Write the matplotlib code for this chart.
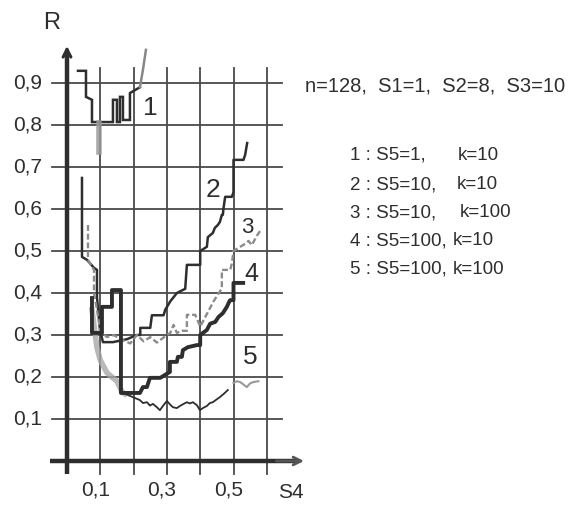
import matplotlib
matplotlib.use("Agg")
import matplotlib.pyplot as plt

plt.rcParams['font.family'] = ['Liberation Sans', 'DejaVu Sans']

# ---------------- data ----------------
x_ticks = [0.1, 0.3, 0.5]
x_tick_labels = ["0,1", "0,3", "0,5"]
y_ticks = [0.1, 0.2, 0.3, 0.4, 0.5, 0.6, 0.7, 0.8, 0.9]
y_tick_labels = ["0,1", "0,2", "0,3", "0,4", "0,5", "0,6", "0,7", "0,8", "0,9"]
x_grid = [0.1, 0.2, 0.3, 0.4, 0.5, 0.6]

# curve 1: S5=1, k=10
c1_x = [0.033, 0.057, 0.057, 0.075, 0.075, 0.099, 0.129, 0.138, 0.138,
        0.150, 0.150, 0.159, 0.159, 0.168, 0.168, 0.189, 0.189, 0.204, 0.219]
c1_y = [0.929, 0.929, 0.867, 0.860, 0.807, 0.807, 0.807, 0.807, 0.860,
        0.860, 0.807, 0.807, 0.867, 0.867, 0.812, 0.812, 0.876, 0.883, 0.890]
c1_dip_x = [0.097, 0.097]
c1_dip_y = [0.805, 0.736]
c1_tail_x = [0.219, 0.228, 0.237]
c1_tail_y = [0.890, 0.931, 0.979]

# curve 2: S5=10, k=10
c2_x = [0.045, 0.045, 0.060, 0.081, 0.090, 0.090, 0.099, 0.108, 0.138, 0.150, 0.180, 0.210,
        0.220, 0.220, 0.250, 0.255, 0.290, 0.295, 0.310, 0.330, 0.355, 0.360, 0.390, 0.400,
        0.400, 0.420, 0.423, 0.438, 0.444, 0.453, 0.459, 0.465, 0.468, 0.470, 0.475, 0.495,
        0.500, 0.500, 0.530, 0.535, 0.541]
c2_y = [0.674, 0.486, 0.479, 0.460, 0.455, 0.390, 0.312, 0.283, 0.283, 0.285, 0.290, 0.300,
        0.300, 0.317, 0.317, 0.347, 0.347, 0.360, 0.380, 0.400, 0.410, 0.467, 0.467, 0.467,
        0.500, 0.510, 0.533, 0.543, 0.555, 0.562, 0.569, 0.586, 0.586, 0.602, 0.629, 0.629,
        0.640, 0.717, 0.717, 0.729, 0.757]

# curve 3: S5=10, k=100
c3_x = [0.063, 0.063, 0.081, 0.081, 0.090, 0.100, 0.120, 0.140, 0.160, 0.190, 0.210, 0.230,
        0.250, 0.270, 0.300, 0.310, 0.320, 0.330, 0.345, 0.360, 0.360, 0.385, 0.400, 0.420,
        0.440, 0.460, 0.465, 0.465, 0.490, 0.495, 0.500, 0.520, 0.535, 0.545, 0.555, 0.570,
        0.580]
c3_y = [0.562, 0.479, 0.455, 0.400, 0.360, 0.310, 0.295, 0.300, 0.290, 0.280, 0.300, 0.285,
        0.295, 0.282, 0.300, 0.305, 0.324, 0.305, 0.310, 0.310, 0.348, 0.348, 0.320, 0.350,
        0.380, 0.405, 0.410, 0.455, 0.455, 0.470, 0.500, 0.510, 0.517, 0.524, 0.514, 0.536,
        0.548]

# curve 4: S5=100, k=10
c4_x = [0.075, 0.075, 0.105, 0.105, 0.135, 0.135, 0.162, 0.162, 0.219, 0.228, 0.240, 0.249,
        0.280, 0.309, 0.309, 0.330, 0.333, 0.345, 0.348, 0.363, 0.390, 0.400, 0.400, 0.420,
        0.430, 0.445, 0.455, 0.468, 0.480, 0.487, 0.490, 0.500, 0.500, 0.529]
c4_y = [0.388, 0.305, 0.305, 0.367, 0.367, 0.407, 0.407, 0.162, 0.162, 0.176, 0.176, 0.198,
        0.198, 0.212, 0.236, 0.236, 0.248, 0.248, 0.264, 0.271, 0.276, 0.276, 0.300, 0.312,
        0.327, 0.331, 0.343, 0.352, 0.367, 0.379, 0.383, 0.383, 0.424, 0.424]

# curve 5: S5=100, k=100
c5_head_x = [0.075, 0.085, 0.090, 0.100, 0.120, 0.150, 0.165, 0.174]
c5_head_y = [0.360, 0.300, 0.270, 0.240, 0.210, 0.190, 0.165, 0.160]
c5_x = [0.174, 0.198, 0.210, 0.219, 0.228, 0.240, 0.249, 0.258, 0.270, 0.279, 0.288, 0.300,
        0.309, 0.318, 0.330, 0.339, 0.348, 0.360, 0.369, 0.378, 0.390, 0.399, 0.408, 0.420,
        0.429, 0.438, 0.450, 0.459, 0.471, 0.483]
c5_y = [0.160, 0.152, 0.148, 0.145, 0.138, 0.140, 0.132, 0.136, 0.128, 0.121, 0.131, 0.143,
        0.135, 0.128, 0.126, 0.131, 0.135, 0.140, 0.137, 0.140, 0.133, 0.121, 0.126, 0.131,
        0.138, 0.140, 0.147, 0.152, 0.160, 0.169]
c5_tail_x = [0.500, 0.510, 0.520, 0.530, 0.540, 0.550, 0.560, 0.575]
c5_tail_y = [0.186, 0.190, 0.188, 0.182, 0.176, 0.185, 0.188, 0.190]

curve_labels = ["1", "2", "3", "4", "5"]
header = "n=128,  S1=1,  S2=8,  S3=10"
legend_left = ["1 : S5=1,", "2 : S5=10,", "3 : S5=10,", "4 : S5=100,", "5 : S5=100,"]
legend_right = ["k=10", "k=10", "k=100", "k=10", "k=100"]

# ---------------- figure ----------------
W, H = 582, 517
fig = plt.figure(figsize=(W / 100, H / 100), dpi=100)
fig.patch.set_facecolor("white")
ax = fig.add_axes([0, 0, 1, 1])
X0, XS = 67, 333.0   # pixel of x=0, pixels per unit
Y0, YS = 461, 420.0
ax.set_xlim(-X0 / XS, (W - X0) / XS)
ax.set_ylim(-(H - Y0) / YS, Y0 / YS)
ax.axis("off")

dark = "#2e2e2e"
grid_c = "#4a4a4a"

# grid
for v in x_grid:
    ax.plot([v, v], [-0.03, 0.935], color=grid_c, lw=1.3, zorder=1)
for h in y_ticks:
    ax.plot([-0.045, 0.645], [h, h], color=grid_c, lw=1.3, zorder=1)

# axes
ax.plot([0, 0], [-0.03, 0.97], color=dark, lw=3.2, zorder=3, solid_capstyle="butt")
ax.plot([-0.05, 0.69], [0, 0], color=dark, lw=3.2, zorder=3, solid_capstyle="butt")
ax.annotate("", xy=(0, 0.995), xytext=(0, 0.90),
            arrowprops=dict(arrowstyle="->", lw=2.2, color=dark, mutation_scale=14))
ax.annotate("", xy=(0.72, 0), xytext=(0.62, 0),
            arrowprops=dict(arrowstyle="->", lw=2.0, color="#555555", mutation_scale=14))

# curves
ax.plot(c1_x, c1_y, color=dark, lw=1.8, zorder=4, solid_joinstyle="miter")
ax.plot(c1_dip_x, c1_dip_y, color="#9a9a9a", lw=4.0, zorder=4, alpha=0.85)
ax.plot(c1_tail_x, c1_tail_y, color="#888888", lw=1.8, zorder=4)
ax.plot(c2_x, c2_y, color=dark, lw=1.8, zorder=4)
ax.plot(c3_x, c3_y, color="#8c8c8c", lw=1.7, ls=(0, (2.5, 1.2)), zorder=4)
ax.plot(c4_x, c4_y, color=dark, lw=2.8, zorder=5)
ax.plot(c5_head_x, c5_head_y, color="#a8a8a8", lw=4.0, zorder=3, alpha=0.8)
ax.plot(c5_x, c5_y, color=dark, lw=1.3, zorder=4)
ax.plot(c5_tail_x, c5_tail_y, color="#999999", lw=1.5, zorder=4)

def px(xp, yp):
    return (xp - X0) / XS, (Y0 - yp) / YS

# curve labels
label_px = [(150, 108), (213, 190), (247, 227), (251, 274), (250, 357)]
label_sz = [19, 19, 16, 18, 19]
for t, (lx, ly), s in zip(curve_labels, label_px, label_sz):
    ax.text(*px(lx, ly), t, fontsize=s, color=dark, ha="center", va="center", zorder=6)

# tick labels
for v, t in zip(y_ticks, y_tick_labels):
    ax.text(-0.075, v, t, fontsize=15, color=dark, ha="right", va="center")
for v, t in zip(x_ticks, x_tick_labels):
    ax.text(v - 0.015, -0.069, t, fontsize=15, color=dark, ha="center", va="center")
ax.text(*px(52, 23), "R", fontsize=17, color=dark, ha="center", va="center")
ax.text(*px(291, 493), "S4", fontsize=15, color=dark, ha="center", va="center")

# legend text
ax.text(*px(305, 86), header, fontsize=14.5, color=dark, ha="left", va="center")
leg_y = [155, 184.5, 212.5, 240.5, 269.5]
k_x = [458, 457, 460, 453, 453]
for a, b, yy, kx in zip(legend_left, legend_right, leg_y, k_x):
    ax.text(*px(350, yy), a, fontsize=13.5, color=dark, ha="left", va="center")
    ax.text(*px(kx, yy), b, fontsize=13.5, color=dark, ha="left", va="center")

fig.savefig("out.png", dpi=100, facecolor="white")
